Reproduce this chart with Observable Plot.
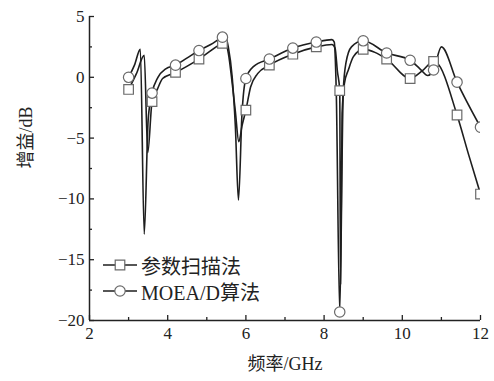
<!DOCTYPE html>
<html><head><meta charset="utf-8">
<script src="https://cdn.jsdelivr.net/npm/d3@7"></script>
<script src="https://cdn.jsdelivr.net/npm/@observablehq/plot@0.6"></script>
<style>
body{margin:0;background:#fff;}
#wrap{position:relative;width:494px;height:381px;}
.row{position:absolute;display:flex;align-items:center;font-family:"Liberation Serif","Noto Sans CJK SC",serif;font-size:20px;color:#222;white-space:nowrap;}
.row svg{margin-right:3px;}
</style></head><body><div id="wrap"></div>
<script>
// Series names
const seriesNames = ["参数扫描法", "MOEA/D算法"];
// 参数扫描法 (squares) - curve
const scanFreq = [3.0, 3.2, 3.4, 3.49, 3.6, 3.74, 3.87, 4.2, 4.8, 5.4, 5.47, 5.55, 5.65, 5.73, 5.82, 5.9, 6.0, 6.12, 6.3, 6.6, 7.2, 7.8, 8.2, 8.28, 8.34, 8.4, 8.42, 8.46, 8.52, 8.62, 8.75, 9.0, 9.6, 10.2, 10.5, 10.8, 10.88, 11.4, 11.7, 12.0];
const scanGain = [-1.0, 0.3, 1.8, -6.2, -2.0, -0.95, -0.1, 0.4, 1.5, 2.8, 2.9, 2.0, -0.5, -2.8, -5.3, -4.0, -2.7, -0.8, 0.3, 1.0, 1.9, 2.5, 2.7, 2.4, 0.5, -1.1, -17.0, -3.0, -0.5, 0.6, 1.7, 2.3, 1.5, -0.1, 0.5, 1.3, 1.2, -3.1, -6.4, -9.6];
// 参数扫描法 markers
const scanMarkFreq = [3.0, 3.6, 4.2, 4.8, 5.4, 6.0, 6.6, 7.2, 7.8, 8.4, 9.0, 9.6, 10.2, 10.8, 11.4, 12.0];
const scanMarkGain = [-1.0, -2.0, 0.4, 1.5, 2.8, -2.7, 1.0, 1.9, 2.5, -1.1, 2.3, 1.5, -0.1, 1.3, -3.1, -9.6];
// MOEA/D算法 (circles) - curve
const moeaFreq = [3.0, 3.15, 3.3, 3.4, 3.5, 3.6, 3.75, 3.95, 4.2, 4.5, 4.8, 5.1, 5.4, 5.47, 5.55, 5.65, 5.73, 5.81, 5.9, 6.0, 6.2, 6.6, 7.2, 7.8, 8.2, 8.26, 8.31, 8.4, 8.49, 8.56, 8.7, 9.0, 9.6, 10.2, 10.45, 10.65, 10.8, 11.0, 11.4, 12.0];
const moeaGain = [0.0, 1.0, 2.3, -12.9, -3.5, -1.3, 0.0, 0.7, 1.0, 1.6, 2.2, 2.7, 3.3, 3.4, 2.5, 0.0, -4.0, -10.1, -3.0, -0.1, 0.9, 1.5, 2.4, 2.9, 3.1, 2.9, -1.0, -19.3, -1.1, 1.2, 2.5, 3.0, 2.0, 1.4, 0.7, 0.15, 0.6, 2.5, -0.4, -4.1];
// MOEA/D算法 markers
const moeaMarkFreq = [3.0, 3.6, 4.2, 4.8, 5.4, 6.0, 6.6, 7.2, 7.8, 8.4, 9.0, 9.6, 10.2, 10.8, 11.4, 12.0];
const moeaMarkGain = [0.0, -1.3, 1.0, 2.2, 3.3, -0.1, 1.5, 2.4, 2.9, -19.3, 3.0, 2.0, 1.4, 0.6, -0.4, -4.1];
// ticks
const xTicks = [2, 4, 6, 8, 10, 12];
const xMinor = [3, 5, 7, 9, 11];
const yTicks = [5, 0, -5, -10, -15, -20];
const yMinor = [2.5, -2.5, -7.5, -12.5, -17.5];
const xTitle = "频率/GHz";
const yTitle = "增益/dB";

const zip = (xs, ys) => xs.map((x, i) => ({x, y: ys[i]}));
const scanLine = zip(scanFreq, scanGain);
const moeaLine = zip(moeaFreq, moeaGain);
const scanDots = zip(scanMarkFreq, scanMarkGain);
const moeaDots = zip(moeaMarkFreq, moeaMarkGain);

const font = '"Liberation Serif","Noto Sans CJK SC",serif';
const lineColor = "#1e1e1e";
const markStroke = "#6a6a6a";

const chart = Plot.plot({
  width: 494, height: 381,
  marginTop: 16, marginBottom: 61, marginLeft: 89, marginRight: 14,
  style: {fontFamily: font, fontSize: "17px", color: "#222", background: "#fff"},
  x: {domain: [2, 12], label: null},
  y: {domain: [-20, 5], label: null},
  marks: [
    Plot.axisY(yTicks, {tickSize: 0, tickPadding: 5, label: null, fontSize: 17}),
    Plot.axisY(yTicks, {tickSize: -5, tickFormat: () => "", label: null, strokeWidth: 1.3}),
    Plot.axisY(yMinor, {tickSize: -3, tickFormat: () => "", label: null, strokeWidth: 1.3}),
    Plot.axisX(xTicks, {tickSize: 0, tickPadding: 6, label: null, fontSize: 17}),
    Plot.axisX(xTicks, {tickSize: -5, tickFormat: () => "", label: null, strokeWidth: 1.3}),
    Plot.axisX(xMinor, {tickSize: -3, tickFormat: () => "", label: null, strokeWidth: 1.3}),
    Plot.ruleX([2], {stroke: "#222", strokeWidth: 1.5}),
    Plot.ruleY([-20], {stroke: "#222", strokeWidth: 1.5}),
    Plot.line(scanLine, {x: "x", y: "y", curve: "monotone-x", stroke: lineColor, strokeWidth: 1.6, clip: true}),
    Plot.line(moeaLine, {x: "x", y: "y", curve: "monotone-x", stroke: lineColor, strokeWidth: 1.6, clip: true}),
    Plot.dot(scanDots, {x: "x", y: "y", symbol: "square", r: 5.4, fill: "white", stroke: markStroke, strokeWidth: 1.2, clip: true}),
    Plot.dot(moeaDots, {x: "x", y: "y", symbol: "circle", r: 5.2, fill: "white", stroke: markStroke, strokeWidth: 1.2, clip: true}),
    Plot.text([xTitle], {frameAnchor: "bottom", dy: 49, fontSize: 18, fill: "#222"}),
    Plot.text([yTitle], {frameAnchor: "left", dx: -63, rotate: -90, fontSize: 18, fill: "#222"})
  ]
});
const wrap = document.getElementById("wrap");
wrap.appendChild(chart);

// legend
const symbols = ["square", "circle"];
const rowsY = [265, 291];
seriesNames.forEach((name, i) => {
  const row = document.createElement("div");
  row.className = "row";
  row.style.left = "102px";
  row.style.top = (rowsY[i] - 12) + "px";
  row.style.height = "24px";
  const ns = "http://www.w3.org/2000/svg";
  const svg = document.createElementNS(ns, "svg");
  svg.setAttribute("width", "36"); svg.setAttribute("height", "24");
  const ln = document.createElementNS(ns, "line");
  ln.setAttribute("x1", "1"); ln.setAttribute("x2", "35"); ln.setAttribute("y1", "12"); ln.setAttribute("y2", "12");
  ln.setAttribute("stroke", lineColor); ln.setAttribute("stroke-width", "1.6");
  svg.appendChild(ln);
  const sym = document.createElementNS(ns, "path");
  sym.setAttribute("d", d3.symbol(symbols[i] === "square" ? d3.symbolSquare : d3.symbolCircle, symbols[i] === "square" ? 5.4*5.4*Math.PI : 5.2*5.2*Math.PI)());
  sym.setAttribute("transform", "translate(18,12)");
  sym.setAttribute("fill", "white"); sym.setAttribute("stroke", markStroke); sym.setAttribute("stroke-width", "1.2");
  svg.appendChild(sym);
  row.appendChild(svg);
  const t = document.createElement("span");
  t.textContent = name;
  row.appendChild(t);
  wrap.appendChild(row);
});
</script></body></html>
